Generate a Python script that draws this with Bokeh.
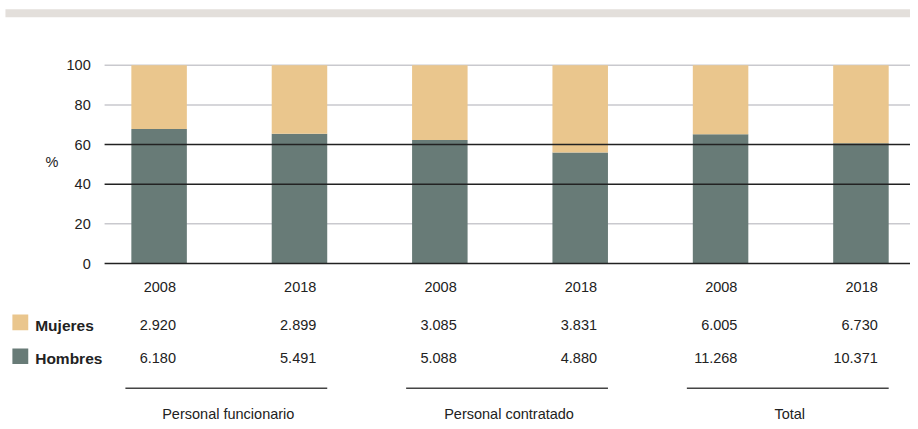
import numpy as np
from bokeh.plotting import figure
from bokeh.models import Range1d
from bokeh.core.properties import value
from bokeh.embed import file_html
from bokeh.resources import INLINE

# ---- data ----
groups = ["Personal funcionario", "Personal contratado", "Total"]
years = ["2008", "2018", "2008", "2018", "2008", "2018"]
mujeres = [2920, 2899, 3085, 3831, 6005, 6730]
hombres = [6180, 5491, 5088, 4880, 11268, 10371]
mujeres_lbl = ["2.920", "2.899", "3.085", "3.831", "6.005", "6.730"]
hombres_lbl = ["6.180", "5.491", "5.088", "4.880", "11.268", "10.371"]
series_names = ["Mujeres", "Hombres"]
y_ticks = [0, 20, 40, 60, 80, 100]
dark_ticks = [0, 40, 60]
light_ticks = [20, 80, 100]

# ---- styles ----
C_MUJ = "#EAC68D"
C_HOM = "#687B77"
C_GRID = "#C9C9CE"
C_DARK = "#222222"
C_TEXT = "#222222"
FONT = value("Liberation Sans")
FS = value("14.5px")

mj = np.array(mujeres, float)
hm = np.array(hombres, float)
pct_h = hm / (hm + mj) * 100
xs = np.arange(len(years), dtype=float)

# layout helpers: reference-pixel positions -> data units
X0_PX, X_STEP = 160.0, 141.6   # first bar centre, spacing (px)
Y0_PX, Y_SCALE = 268.0, 2.02   # y=0 position, px per unit
def dx(px):
    return (px - X0_PX) / X_STEP
def dy(px):
    return (Y0_PX - px) / Y_SCALE

REF_W, REF_H = 918, 429
W, H = 910, 421
p = figure(width=W, height=H, output_backend="svg", toolbar_location=None,
           x_range=Range1d(dx(0), dx(REF_W)), y_range=Range1d(dy(REF_H), dy(0)),
           min_border=0, min_border_left=0, min_border_right=0,
           min_border_top=0, min_border_bottom=0)
p.axis.visible = False
p.grid.visible = False
p.outline_line_color = None
p.background_fill_color = "white"
p.border_fill_color = "white"

# top gray band
p.quad(left=[dx(5)], right=[dx(REF_W)], top=[dy(9)], bottom=[dy(17)],
       fill_color="#E3DFDB", line_color=None)

grid_left = dx(105)
x_right = dx(REF_W)

# light gridlines
p.segment(x0=[grid_left] * len(light_ticks), x1=[x_right] * len(light_ticks),
          y0=light_ticks, y1=light_ticks, line_color=C_GRID, line_width=1.5)

# bars
bw = 56 / X_STEP
p.vbar(x=xs, bottom=0, top=pct_h, width=bw, fill_color=C_HOM, line_color=None)
p.vbar(x=xs, bottom=pct_h, top=100, width=bw, fill_color=C_MUJ, line_color=None)

# dark lines
p.segment(x0=[grid_left] * len(dark_ticks), x1=[x_right] * len(dark_ticks),
          y0=dark_ticks, y1=dark_ticks, line_color=C_DARK, line_width=1.5)

# y tick labels
p.text(x=[dx(91)] * len(y_ticks), y=y_ticks, text=[str(t) for t in y_ticks],
       text_align="right", text_baseline="middle", text_font=FONT,
       text_font_size=FS, text_color=C_TEXT)
p.text(x=[dx(52)], y=[dy(165)], text=["%"], text_align="center", text_baseline="middle",
       text_font=FONT, text_font_size=FS, text_color=C_TEXT)

# table rows
num_x = xs + 17 / X_STEP
p.text(x=num_x, y=[dy(292)] * 6, text=years, text_align="right", text_baseline="middle",
       text_font=FONT, text_font_size=FS, text_color=C_TEXT)
p.text(x=num_x, y=[dy(331)] * 6, text=mujeres_lbl, text_align="right", text_baseline="middle",
       text_font=FONT, text_font_size=FS, text_color=C_TEXT)
p.text(x=num_x, y=[dy(364.5)] * 6, text=hombres_lbl, text_align="right", text_baseline="middle",
       text_font=FONT, text_font_size=FS, text_color=C_TEXT)

# legend swatches + labels
p.rect(x=[dx(20), dx(20)], y=[dy(328), dy(362.5)], width=16 / X_STEP, height=16 / Y_SCALE,
       fill_color=[C_MUJ, C_HOM], line_color=None)
p.text(x=[dx(35), dx(35)], y=[dy(331), dy(364.5)], text=series_names,
       text_align="left", text_baseline="middle", text_font=FONT,
       text_font_size=value("15.5px"), text_font_style="bold", text_color=C_TEXT)

# group underlines and labels
g_left = xs[0::2] - 34 / X_STEP
g_right = xs[1::2] + 28 / X_STEP
p.segment(x0=g_left, x1=g_right, y0=[dy(395)] * 3, y1=[dy(395)] * 3,
          line_color="#444444", line_width=1.5)
p.text(x=(g_left + g_right) / 2 + 2 / X_STEP, y=[dy(421.5)] * 3, text=groups,
       text_align="center", text_baseline="middle", text_font=FONT,
       text_font_size=FS, text_color=C_TEXT)

open("out.html", "w").write(file_html(p, INLINE))
